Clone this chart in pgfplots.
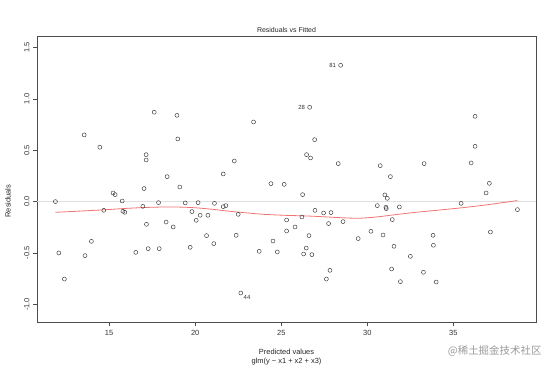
\documentclass[border=0pt]{standalone}
\usepackage{pgfplots}
\pgfplotsset{compat=1.18}
\usepackage{fontspec}
\setmainfont{Liberation Sans}
\newfontfamily\cjk{Noto Sans CJK SC}
\definecolor{loess}{RGB}{240,115,115}
\begin{document}
\begin{tikzpicture}[x=1bp,y=1bp]
\path[use as bounding box] (0,0) rectangle (554,368);
\begin{axis}[
  at={(37bp,46bp)}, anchor=south west,
  scale only axis, width=499bp, height=286bp,
  xmin=10.81, xmax=39.8, ymin=-1.172, ymax=1.612,
  axis line style={black!70, line width=0.6pt},
  xtick={15,20,25,30,35}, xticklabels={15,20,25,30,35},
  ytick={-1,-0.5,0,0.5,1,1.5}, yticklabels={-1.0,-0.5,0.0,0.5,1.0,1.5},
  tick align=outside, xtick pos=bottom, ytick pos=left,
  major tick length=4bp,
  tick style={black!70, line width=0.5pt},
  ticklabel style={font=\fontsize{7.5}{9}\selectfont, text=black!80},
  yticklabel style={rotate=90, anchor=south, xshift=0bp},
  xticklabel style={yshift=-1bp},
  clip=false,
]
\addplot[gray!25, line width=0.4pt] coordinates {(10.81,0) (39.8,0)};
\addplot[only marks, mark=o, mark size=2pt, black!80, mark options={line width=0.45pt}] coordinates {
(17.62,0.87) (13.55,0.649) (14.46,0.529) (17.15,0.457) (17.15,0.405)
(18.94,0.84) (23.39,0.775) (18.99,0.61) (22.27,0.395) (21.63,0.269) (18.37,0.243)
(28.45,1.327) (26.65,0.918) (26.94,0.603) (26.47,0.457) (26.70,0.425) (28.31,0.37) (30.75,0.35) (31.34,0.243)
(36.26,0.83) (36.26,0.538) (33.30,0.37) (36.03,0.376)
(11.88,0.0) (15.23,0.084) (15.35,0.068) (17.03,0.127) (15.76,0.006) (17.87,-0.01)
(14.69,-0.085) (15.80,-0.094) (15.91,-0.104) (16.96,-0.046) (17.17,-0.221) (13.97,-0.387)
(12.08,-0.50) (13.60,-0.526) (16.55,-0.494) (17.27,-0.458) (17.91,-0.458) (12.40,-0.754)
(19.11,0.142) (24.40,0.175) (25.17,0.168) (19.42,-0.013) (20.17,-0.01) (21.12,-0.017)
(21.63,-0.049) (21.78,-0.039) (19.81,-0.097) (20.29,-0.133) (20.74,-0.133) (22.50,-0.124)
(20.06,-0.182) (18.31,-0.199) (18.72,-0.247) (20.66,-0.331) (22.38,-0.328) (21.08,-0.409)
(19.71,-0.445) (25.31,-0.179) (25.31,-0.286) (24.52,-0.384) (23.72,-0.484) (24.77,-0.49)
(22.65,-0.89)
(26.24,0.068) (31.02,0.065) (31.16,0.032) (31.08,-0.055) (31.10,-0.068) (30.58,-0.039)
(31.86,-0.052) (26.96,-0.085) (27.46,-0.111) (27.89,-0.107) (26.20,-0.15) (31.45,-0.175)
(28.59,-0.195) (27.75,-0.214) (25.80,-0.247) (30.21,-0.289) (30.91,-0.325) (26.61,-0.331)
(29.47,-0.36) (31.55,-0.435) (26.45,-0.452) (26.30,-0.51) (26.78,-0.516) (32.50,-0.533)
(27.83,-0.669) (31.41,-0.656) (27.62,-0.754) (31.92,-0.779)
(37.09,0.178) (36.90,0.084) (35.45,-0.017) (38.72,-0.078) (37.15,-0.296) (33.82,-0.328)
(33.84,-0.425) (33.26,-0.688) (34.00,-0.783)
};
\addplot[loess, line width=0.8pt, smooth] coordinates {
(11.88,-0.104) (13,-0.095) (14.69,-0.08) (16,-0.066) (17,-0.058) (18,-0.053) (19,-0.053)
(20,-0.06) (21,-0.075) (22,-0.094) (23,-0.11) (24,-0.124) (25.3,-0.134) (26.5,-0.14)
(27.5,-0.148) (28.5,-0.157) (29.5,-0.162) (30.5,-0.15) (31.5,-0.13) (32.6,-0.108)
(34,-0.085) (35.5,-0.06) (37,-0.03) (38.72,0.01)
};
\node[anchor=east, font=\fontsize{6}{7}\selectfont, text=black!80, inner sep=1bp] at (axis cs:28.25,1.327) {81};
\node[anchor=east, font=\fontsize{6}{7}\selectfont, text=black!80, inner sep=1bp] at (axis cs:26.45,0.918) {28};
\node[anchor=north west, font=\fontsize{6}{7}\selectfont, text=black!80, inner sep=1bp] at (axis cs:22.75,-0.9) {44};
\end{axis}
\node[font=\fontsize{7}{8}\selectfont, text=black!85] at (286.5,338) {Residuals vs Fitted};
\node[font=\fontsize{7.5}{9}\selectfont, text=black!85] at (286.5,16) {Predicted values};
\node[font=\fontsize{7.5}{9}\selectfont, text=black!85] at (286.5,6) {glm(y \textasciitilde{} x1 + x2 + x3)};
\node[rotate=90, font=\fontsize{7.5}{9}\selectfont, text=black!85] at (8,167) {Residuals};
\node[anchor=east, font=\cjk\fontsize{10.5}{12}\selectfont, text=black!40] at (545,17) {@稀土掘金技术社区};
\end{tikzpicture}
\end{document}
